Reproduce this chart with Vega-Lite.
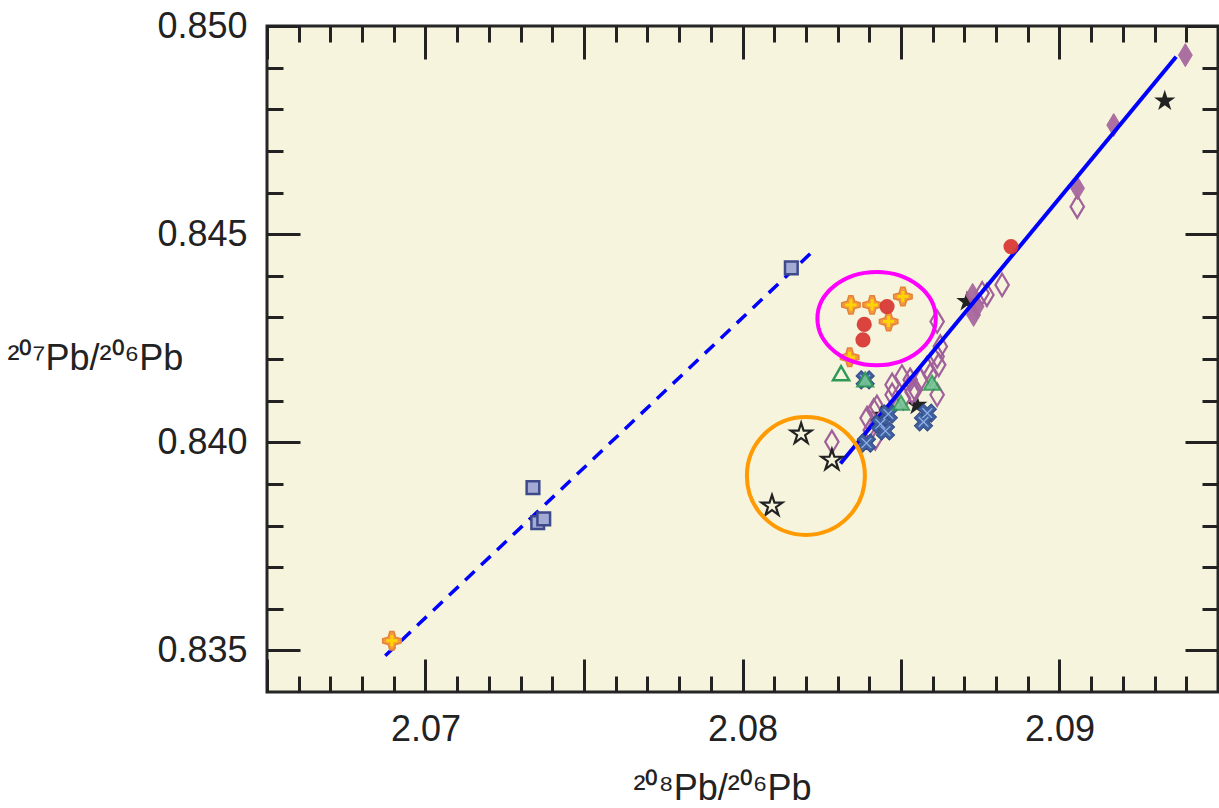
{
  "$schema": "https://vega.github.io/schema/vega-lite/v6.json",
  "width": 951,
  "height": 666,
  "autosize": "none",
  "padding": {"left": 267, "top": 26, "right": 1, "bottom": 116},
  "background": "white",
  "config": {
    "view": {"fill": "#f6f4dd", "stroke": "#262626", "strokeWidth": 3},
    "axis": {
      "domain": false, "tickColor": "#222222", "tickWidth": 3,
      "labelFont": "Liberation Sans", "labelFontSize": 36, "labelColor": "#222222",
      "grid": false, "labelFlush": false, "labelOverlap": false,
      "titleFont": "Liberation Sans", "titleFontSize": 36, "titleFontWeight": "normal", "titleColor": "#222222"
    }
  },
  "data": {
    "values": [
      {"g": "sq", "x": 2.08154, "y": 0.84419},
      {"g": "sq", "x": 2.07339, "y": 0.83891},
      {"g": "sq", "x": 2.07354, "y": 0.83807},
      {"g": "sq", "x": 2.07373, "y": 0.83816},
      {"g": "cr", "x": 2.06894, "y": 0.83523},
      {"g": "cr", "x": 2.08342, "y": 0.84330},
      {"g": "cr", "x": 2.08409, "y": 0.84330},
      {"g": "cr", "x": 2.08506, "y": 0.84350},
      {"g": "cr", "x": 2.08461, "y": 0.84290},
      {"g": "cr", "x": 2.08338, "y": 0.84204},
      {"g": "rc", "x": 2.08456, "y": 0.84326},
      {"g": "rc", "x": 2.08384, "y": 0.84283},
      {"g": "rc", "x": 2.08380, "y": 0.84246},
      {"g": "rc", "x": 2.08847, "y": 0.84470},
      {"g": "so", "x": 2.08185, "y": 0.84020},
      {"g": "so", "x": 2.08282, "y": 0.83957},
      {"g": "so", "x": 2.08093, "y": 0.83847},
      {"g": "sf", "x": 2.09332, "y": 0.84820},
      {"g": "sf", "x": 2.08550, "y": 0.84089},
      {"g": "sf", "x": 2.08708, "y": 0.84338},
      {"g": "sf", "x": 2.08438, "y": 0.84065},
      {"g": "to", "x": 2.08311, "y": 0.84166},
      {"g": "tf", "x": 2.08387, "y": 0.84151},
      {"g": "tf", "x": 2.08598, "y": 0.84143},
      {"g": "tf", "x": 2.08500, "y": 0.84095},
      {"g": "xb", "x": 2.08387, "y": 0.84150},
      {"g": "xb", "x": 2.08460, "y": 0.84068},
      {"g": "xb", "x": 2.08435, "y": 0.84044},
      {"g": "xb", "x": 2.08451, "y": 0.84027},
      {"g": "xb", "x": 2.08583, "y": 0.84070},
      {"g": "xb", "x": 2.08571, "y": 0.84049},
      {"g": "xb", "x": 2.08391, "y": 0.83998},
      {"g": "do", "x": 2.09056, "y": 0.84566},
      {"g": "do", "x": 2.08819, "y": 0.84378},
      {"g": "do", "x": 2.08756, "y": 0.84358},
      {"g": "do", "x": 2.08771, "y": 0.84354},
      {"g": "do", "x": 2.08614, "y": 0.84290},
      {"g": "do", "x": 2.08624, "y": 0.84230},
      {"g": "do", "x": 2.08614, "y": 0.84206},
      {"g": "do", "x": 2.08619, "y": 0.84186},
      {"g": "do", "x": 2.08582, "y": 0.84178},
      {"g": "do", "x": 2.08592, "y": 0.84162},
      {"g": "do", "x": 2.08561, "y": 0.84150},
      {"g": "do", "x": 2.08529, "y": 0.84150},
      {"g": "do", "x": 2.08503, "y": 0.84158},
      {"g": "do", "x": 2.08472, "y": 0.84138},
      {"g": "do", "x": 2.08614, "y": 0.84114},
      {"g": "do", "x": 2.08472, "y": 0.84114},
      {"g": "do", "x": 2.08535, "y": 0.84121},
      {"g": "do", "x": 2.08508, "y": 0.84106},
      {"g": "do", "x": 2.08424, "y": 0.84085},
      {"g": "do", "x": 2.08414, "y": 0.84077},
      {"g": "do", "x": 2.08393, "y": 0.84058},
      {"g": "do", "x": 2.08403, "y": 0.84029},
      {"g": "do", "x": 2.08419, "y": 0.84009},
      {"g": "do", "x": 2.08282, "y": 0.84001},
      {"g": "do", "x": 2.08545, "y": 0.84126},
      {"g": "df", "x": 2.09397, "y": 0.84930},
      {"g": "df", "x": 2.09171, "y": 0.84762},
      {"g": "df", "x": 2.09057, "y": 0.84610},
      {"g": "df", "x": 2.08726, "y": 0.84354},
      {"g": "df", "x": 2.08740, "y": 0.84326},
      {"g": "df", "x": 2.08729, "y": 0.84306},
      {"g": "ld", "x": 2.06873, "y": 0.83487},
      {"g": "ld", "x": 2.08233, "y": 0.84467},
      {"g": "ls", "x": 2.08309, "y": 0.83949},
      {"g": "ls", "x": 2.09368, "y": 0.84926},
      {"g": "ec", "x": 2.08200, "y": 0.83919},
      {"g": "em", "x": 2.08423, "y": 0.84297}
    ]
  },
  "encoding": {
    "x": {"field": "x", "type": "quantitative", "scale": {"domain": [2.065, 2.095], "nice": false, "zero": false}, "axis": null},
    "y": {"field": "y", "type": "quantitative", "scale": {"domain": [0.834, 0.850], "nice": false, "zero": false}, "axis": null}
  },
  "resolve": {"axis": {"x": "independent", "y": "independent"}},
  "layer": [
    {
      "transform": [{"filter": "datum.g == 'sf'"}],
      "mark": {"type": "point", "shape": "M 0 -1 L 0.2245 -0.309 L 0.951 -0.309 L 0.363 0.118 L 0.588 0.809 L 0 0.382 L -0.588 0.809 L -0.363 0.118 L -0.951 -0.309 L -0.2245 -0.309 Z", "size": 500, "filled": true, "fill": "#222222", "opacity": 1}
    },
    {
      "transform": [{"filter": "datum.g == 'do'"}],
      "mark": {"type": "point", "shape": "M 0 -1 L 0.6 0 L 0 1 L -0.6 0 Z", "size": 500, "filled": false, "stroke": "#a0609a", "strokeWidth": 2.2, "opacity": 1},
      "encoding": {
        "x": {"field": "x", "type": "quantitative", "scale": {"domain": [2.065, 2.095], "nice": false, "zero": false},
          "axis": {"orient": "bottom", "values": [2.07, 2.08, 2.09], "ticks": false, "labelPadding": 20, "format": ".2f",
            "title": "²⁰⁸Pb/²⁰⁶Pb", "titleX": 455, "titleY": 107, "titleAlign": "center", "titleBaseline": "alphabetic"}},
        "y": {"field": "y", "type": "quantitative", "scale": {"domain": [0.834, 0.850], "nice": false, "zero": false},
          "axis": {"orient": "left", "values": [0.835, 0.84, 0.845, 0.85], "ticks": false, "labelPadding": 20, "format": ".3f",
            "title": "²⁰⁷Pb/²⁰⁶Pb", "titleAngle": 0, "titleAlign": "left", "titleBaseline": "middle", "titleX": -260, "titleY": 332}}
      }
    },
    {
      "transform": [{"filter": "datum.g == 'df'"}],
      "mark": {"type": "point", "shape": "M 0 -1 L 0.6 0 L 0 1 L -0.6 0 Z", "size": 530, "filled": true, "fill": "#a8689e", "stroke": "#a8689e", "strokeWidth": 1, "opacity": 0.95},
      "encoding": {
        "x": {"field": "x", "type": "quantitative", "scale": {"domain": [2.065, 2.095], "nice": false, "zero": false},
          "axis": {"orient": "top", "offset": -666, "values": [2.065, 2.07, 2.075, 2.08, 2.085, 2.09, 2.095], "tickSize": 33, "labels": false, "title": null}},
        "y": {"field": "y", "type": "quantitative", "scale": {"domain": [0.834, 0.850], "nice": false, "zero": false},
          "axis": {"orient": "right", "offset": -951, "values": [0.835, 0.84, 0.845, 0.85], "tickSize": 33, "labels": false, "title": null}}
      }
    },
    {
      "transform": [{"filter": "datum.g == 'ld'"}],
      "mark": {"type": "line", "stroke": "#0000ff", "strokeWidth": 3.5, "strokeDash": [13, 9]},
      "encoding": {}
    },
    {
      "transform": [{"filter": "datum.g == 'ls'"}],
      "mark": {"type": "line", "stroke": "#0000ff", "strokeWidth": 4},
      "encoding": {}
    },
    {
      "transform": [{"filter": "datum.g == 'sq'"}],
      "mark": {"type": "point", "shape": "square", "size": 160, "filled": true, "fill": "#a3abd5", "stroke": "#3e4a8c", "strokeWidth": 2.5, "opacity": 1},
      "encoding": {
        "x": {"field": "x", "type": "quantitative", "scale": {"domain": [2.065, 2.095], "nice": false, "zero": false},
          "axis": {"orient": "top", "offset": -666, "values": [2.066, 2.067, 2.068, 2.069, 2.071, 2.072, 2.073, 2.074, 2.076, 2.077, 2.078, 2.079, 2.081, 2.082, 2.083, 2.084, 2.086, 2.087, 2.088, 2.089, 2.091, 2.092, 2.093, 2.094],
            "tickSize": 16, "labels": false, "title": null}},
        "y": {"field": "y", "type": "quantitative", "scale": {"domain": [0.834, 0.850], "nice": false, "zero": false},
          "axis": {"orient": "right", "offset": -951, "values": [0.836, 0.837, 0.838, 0.839, 0.841, 0.842, 0.843, 0.844, 0.846, 0.847, 0.848, 0.849],
            "tickSize": 16, "labels": false, "title": null}}
      }
    },
    {
      "transform": [{"filter": "datum.g == 'cr'"}],
      "mark": {"type": "point", "shape": "M -0.22 -1 L 0.22 -1 L 0.4 -0.4 L 1 -0.22 L 1 0.22 L 0.4 0.4 L 0.22 1 L -0.22 1 L -0.4 0.4 L -1 0.22 L -1 -0.22 L -0.4 -0.4 Z", "size": 340, "filled": true, "fill": "#f39a3d", "stroke": "#e5823a", "strokeWidth": 1.5, "opacity": 1},
      "encoding": {
        "x": {"field": "x", "type": "quantitative", "scale": {"domain": [2.065, 2.095], "nice": false, "zero": false},
          "axis": {"orient": "bottom", "offset": -666, "values": [2.065, 2.07, 2.075, 2.08, 2.085, 2.09, 2.095], "tickSize": 33, "labels": false, "title": null}},
        "y": {"field": "y", "type": "quantitative", "scale": {"domain": [0.834, 0.850], "nice": false, "zero": false},
          "axis": {"orient": "left", "offset": -951, "values": [0.835, 0.84, 0.845, 0.85], "tickSize": 33, "labels": false, "title": null}}
      }
    },
    {
      "transform": [{"filter": "datum.g == 'cr'"}],
      "mark": {"type": "point", "shape": "M -0.6 0 L 0.6 0 M 0 -0.6 L 0 0.6", "size": 340, "filled": false, "stroke": "#ffd400", "strokeWidth": 3, "opacity": 1}
    },
    {
      "transform": [{"filter": "datum.g == 'rc'"}],
      "mark": {"type": "point", "shape": "circle", "size": 230, "filled": true, "fill": "#d93a35", "opacity": 0.95},
      "encoding": {
        "x": {"field": "x", "type": "quantitative", "scale": {"domain": [2.065, 2.095], "nice": false, "zero": false},
          "axis": {"orient": "bottom", "offset": -666, "values": [2.066, 2.067, 2.068, 2.069, 2.071, 2.072, 2.073, 2.074, 2.076, 2.077, 2.078, 2.079, 2.081, 2.082, 2.083, 2.084, 2.086, 2.087, 2.088, 2.089, 2.091, 2.092, 2.093, 2.094],
            "tickSize": 16, "labels": false, "title": null}},
        "y": {"field": "y", "type": "quantitative", "scale": {"domain": [0.834, 0.850], "nice": false, "zero": false},
          "axis": {"orient": "left", "offset": -951, "values": [0.836, 0.837, 0.838, 0.839, 0.841, 0.842, 0.843, 0.844, 0.846, 0.847, 0.848, 0.849],
            "tickSize": 16, "labels": false, "title": null}}
      }
    },
    {
      "transform": [{"filter": "datum.g == 'so'"}],
      "mark": {"type": "point", "shape": "M 0 -1 L 0.2245 -0.309 L 0.951 -0.309 L 0.363 0.118 L 0.588 0.809 L 0 0.382 L -0.588 0.809 L -0.363 0.118 L -0.951 -0.309 L -0.2245 -0.309 Z", "size": 484, "filled": false, "stroke": "#222222", "strokeWidth": 2.2, "opacity": 1}
    },
    {
      "transform": [{"filter": "datum.g == 'xb'"}],
      "mark": {"type": "point", "shape": "cross", "angle": 45, "size": 340, "filled": true, "fill": "#41609f", "stroke": "#2f4a88", "strokeWidth": 1, "opacity": 1}
    },
    {
      "transform": [{"filter": "datum.g == 'xb'"}],
      "mark": {"type": "point", "shape": "M -0.75 0 L 0.75 0 M 0 -0.75 L 0 0.75", "angle": 45, "size": 340, "filled": false, "stroke": "#8fb3e8", "strokeWidth": 1.2, "opacity": 1}
    },
    {
      "transform": [{"filter": "datum.g == 'to'"}],
      "mark": {"type": "point", "shape": "triangle-up", "size": 260, "filled": false, "stroke": "#2f9a57", "strokeWidth": 2.5, "opacity": 1}
    },
    {
      "transform": [{"filter": "datum.g == 'tf'"}],
      "mark": {"type": "point", "shape": "triangle-up", "size": 260, "filled": true, "fill": "#74c493", "stroke": "#2f9a57", "strokeWidth": 2, "opacity": 0.9}
    },
    {
      "transform": [{"filter": "datum.g == 'ec'"}],
      "mark": {"type": "point", "shape": "circle", "size": 13924, "filled": false, "stroke": "#ff9a00", "strokeWidth": 4, "opacity": 1}
    },
    {
      "transform": [{"filter": "datum.g == 'em'"}],
      "mark": {"type": "point", "shape": "M 1 0 C 1 0.4347 0.5523 0.787 0 0.787 C -0.5523 0.787 -1 0.4347 -1 0 C -1 -0.4347 -0.5523 -0.787 0 -0.787 C 0.5523 -0.787 1 -0.4347 1 0 Z", "size": 14018, "filled": false, "stroke": "#ff00ff", "strokeWidth": 4, "opacity": 1}
    }
  ]
}
